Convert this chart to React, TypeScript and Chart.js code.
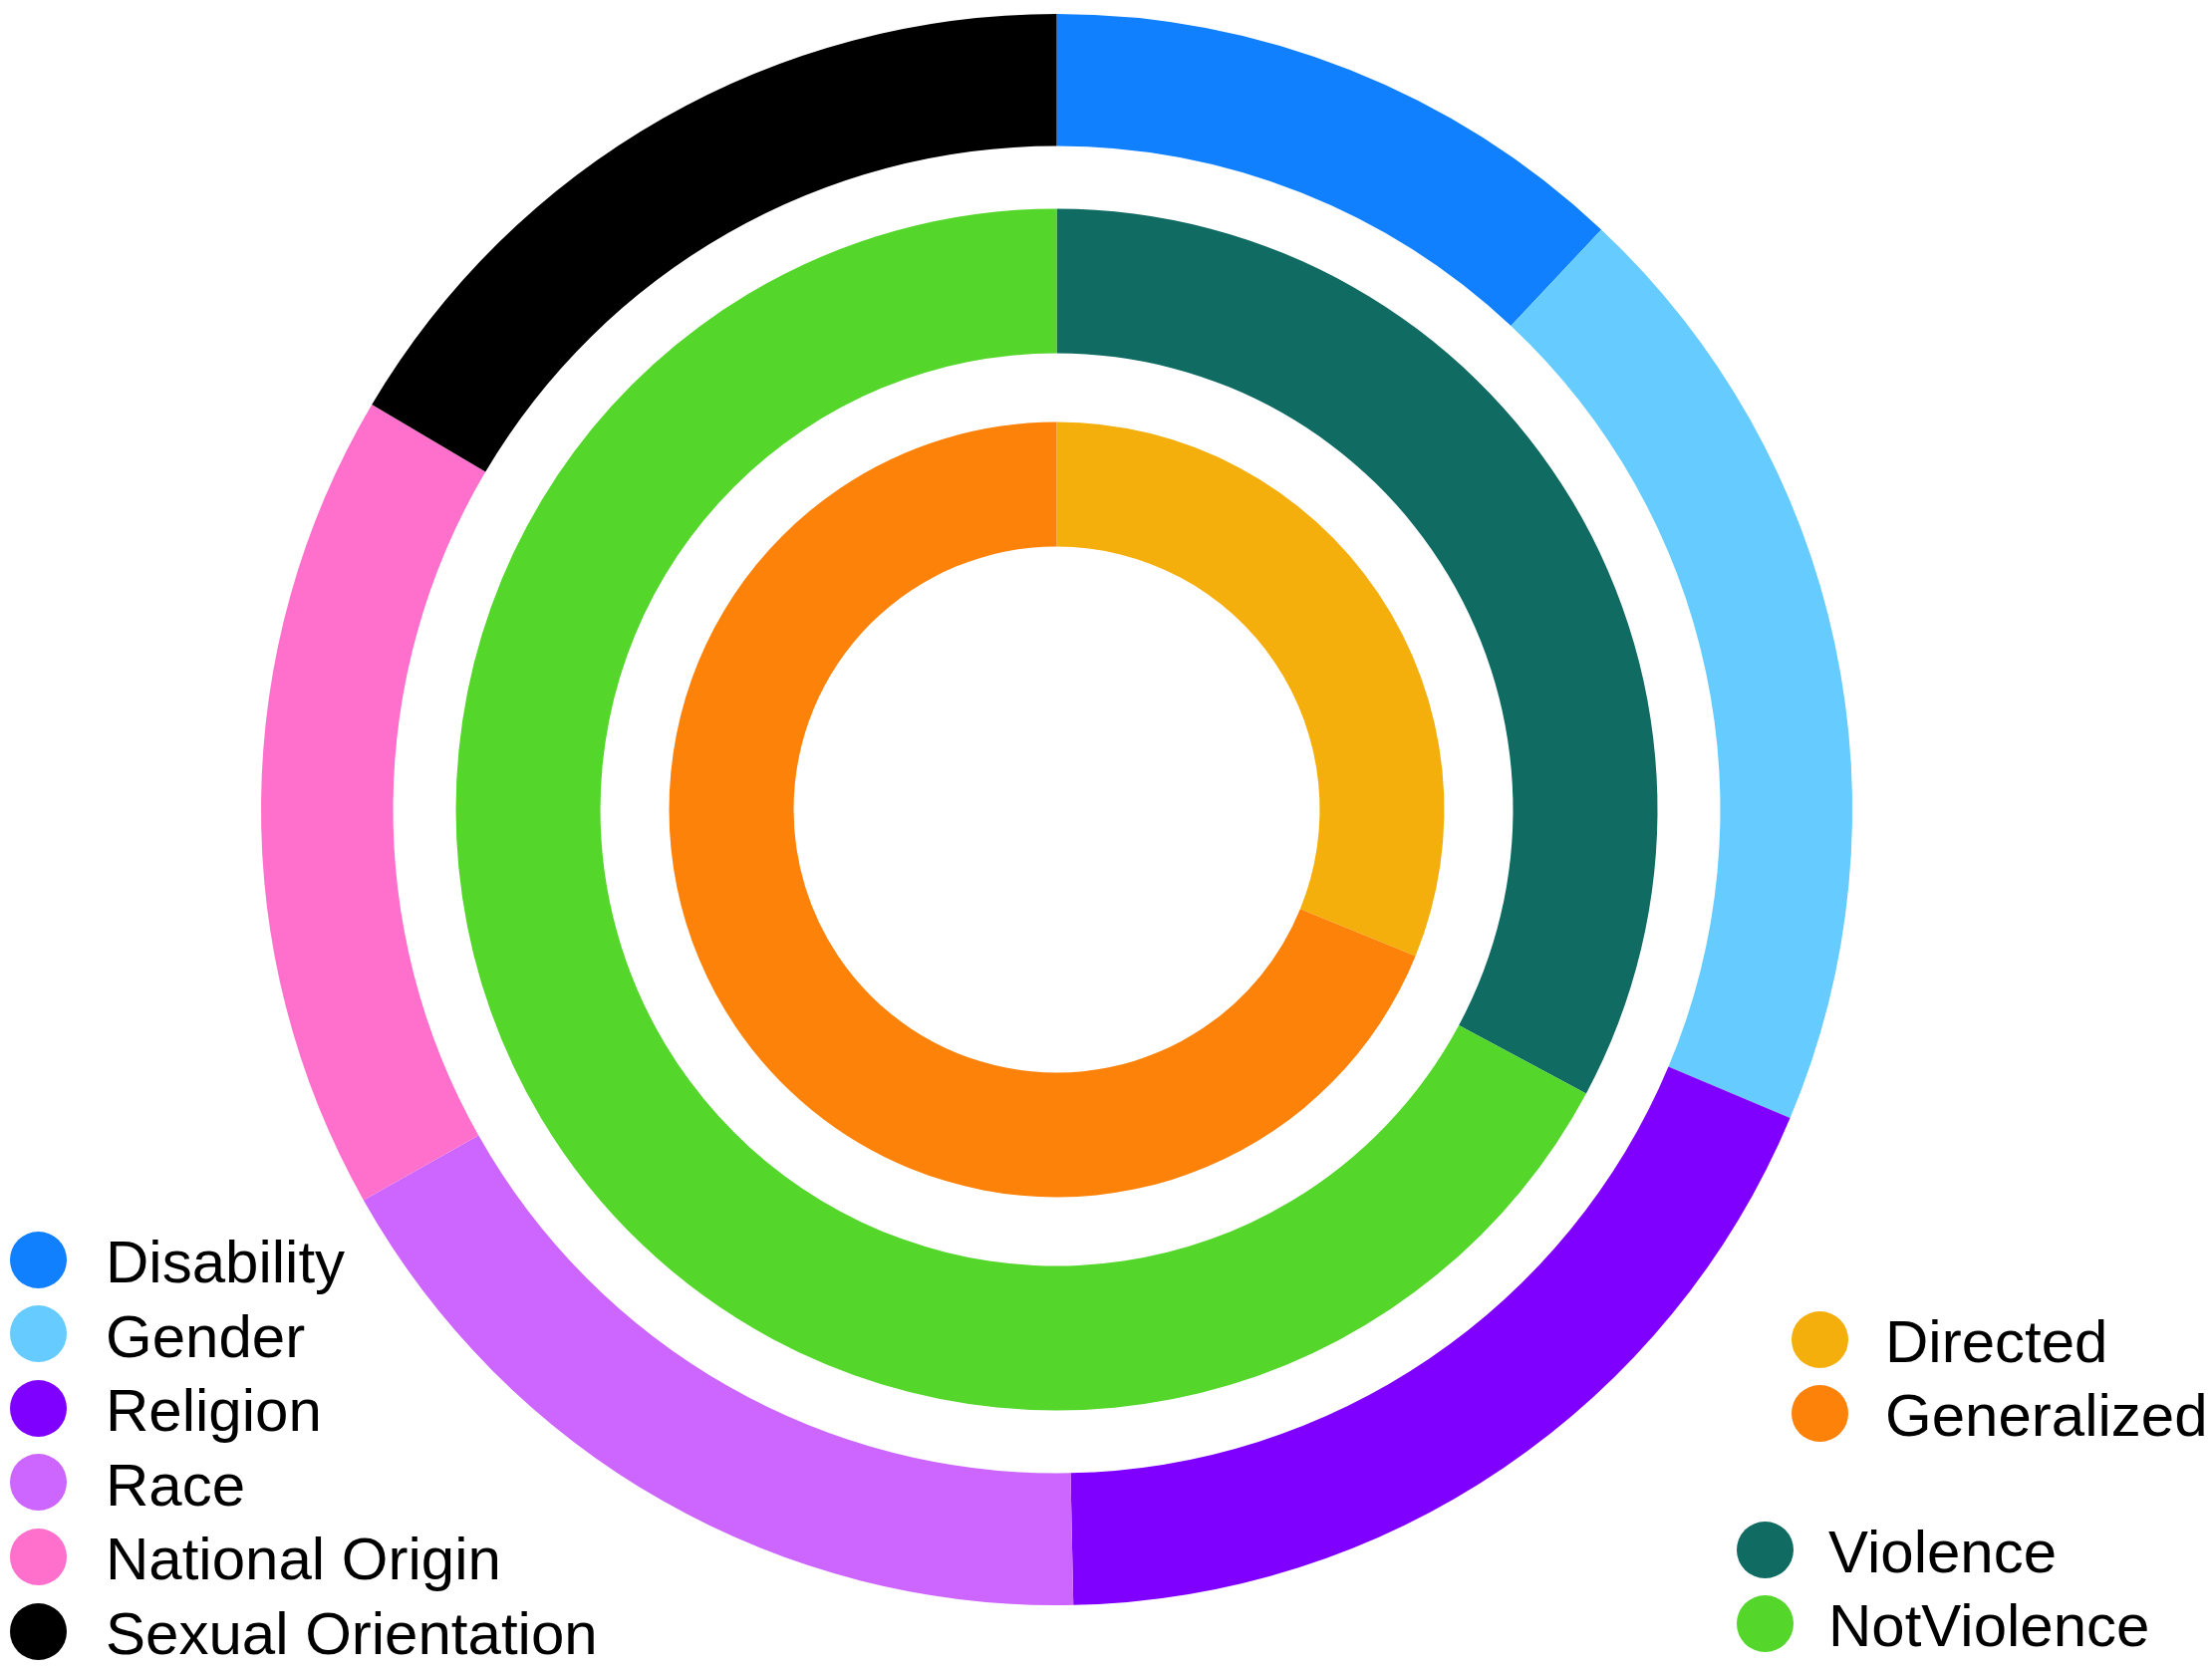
import React, { useEffect, useRef } from "react";
import { Chart, registerables } from "chart.js";

Chart.register(...registerables);

// Outer ring: hate category
const hateCategories = ["Disability", "Gender", "Religion", "Race", "National Origin", "Sexual Orientation"];
const hateValues = [72, 116, 110, 103, 100, 99];
const hateColors = ["#1080FF", "#66CCFF", "#8000FF", "#CC66FF", "#FF70CC", "#000000"];

// Middle ring: violence
const violenceCategories = ["Violence", "NotViolence"];
const violenceValues = [197, 403];
const violenceColors = ["#106B62", "#54D62B"];

// Inner ring: target
const targetCategories = ["Directed", "Generalized"];
const targetValues = [187, 413];
const targetColors = ["#F5AF0C", "#FC820A"];

const FONT = '"Liberation Sans", Arial, Helvetica, sans-serif';

function LegendRow({ color, label, cx, cy, textX }: { color: string; label: string; cx: number; cy: number; textX: number }) {
  const d = 57;
  return (
    <>
      <div
        style={{
          position: "absolute",
          left: cx - d / 2,
          top: cy - d / 2,
          width: d,
          height: d,
          borderRadius: "50%",
          background: color,
        }}
      />
      <div
        style={{
          position: "absolute",
          left: textX,
          top: cy - 30 + 3,
          height: 60,
          lineHeight: "60px",
          fontSize: 60,
          fontFamily: FONT,
          color: "#000",
          whiteSpace: "nowrap",
        }}
      >
        {label}
      </div>
    </>
  );
}

export default function App() {
  const canvasRef = useRef<HTMLCanvasElement | null>(null);

  useEffect(() => {
    if (!canvasRef.current) return;
    const spacer = (w: number) => ({
      label: "",
      data: [1],
      backgroundColor: ["rgba(0,0,0,0)"],
      borderWidth: 0,
      weight: w,
    });
    const chart = new Chart(canvasRef.current, {
      type: "doughnut",
      data: {
        labels: hateCategories,
        datasets: [
          { label: "Category", data: hateValues, backgroundColor: hateColors, borderWidth: 0, weight: 132.5 } as any,
          spacer(63),
          { label: "Violence", data: violenceValues, backgroundColor: violenceColors, borderWidth: 0, weight: 145 } as any,
          spacer(69),
          { label: "Target", data: targetValues, backgroundColor: targetColors, borderWidth: 0, weight: 125 } as any,
        ],
      },
      options: {
        responsive: false,
        animation: false,
        events: [],
        cutout: "33.06%",
        layout: { padding: { left: 262, top: 14, right: 361, bottom: 65 } },
        plugins: {
          legend: { display: false },
          tooltip: { enabled: false },
        },
      },
    });
    return () => chart.destroy();
  }, []);

  const leftX = 38;
  const leftTextX = 106;
  const leftY0 = 1264;
  const leftStep = 74.6;

  return (
    <div style={{ position: "absolute", left: 0, top: 0, width: 2220, height: 1676, background: "#fff", overflow: "hidden" }}>
      <canvas ref={canvasRef} width={2220} height={1676} style={{ position: "absolute", left: 0, top: 0, width: 2220, height: 1676 }} />
      {hateCategories.map((c, i) => (
        <LegendRow key={c} color={hateColors[i]} label={c} cx={leftX} cy={leftY0 + i * leftStep} textX={leftTextX} />
      ))}
      {targetCategories.map((c, i) => (
        <LegendRow key={c} color={targetColors[i]} label={c} cx={1826} cy={1344 + i * 74} textX={1892} />
      ))}
      {violenceCategories.map((c, i) => (
        <LegendRow key={c} color={violenceColors[i]} label={c} cx={1771} cy={1555 + i * 74} textX={1835} />
      ))}
    </div>
  );
}
